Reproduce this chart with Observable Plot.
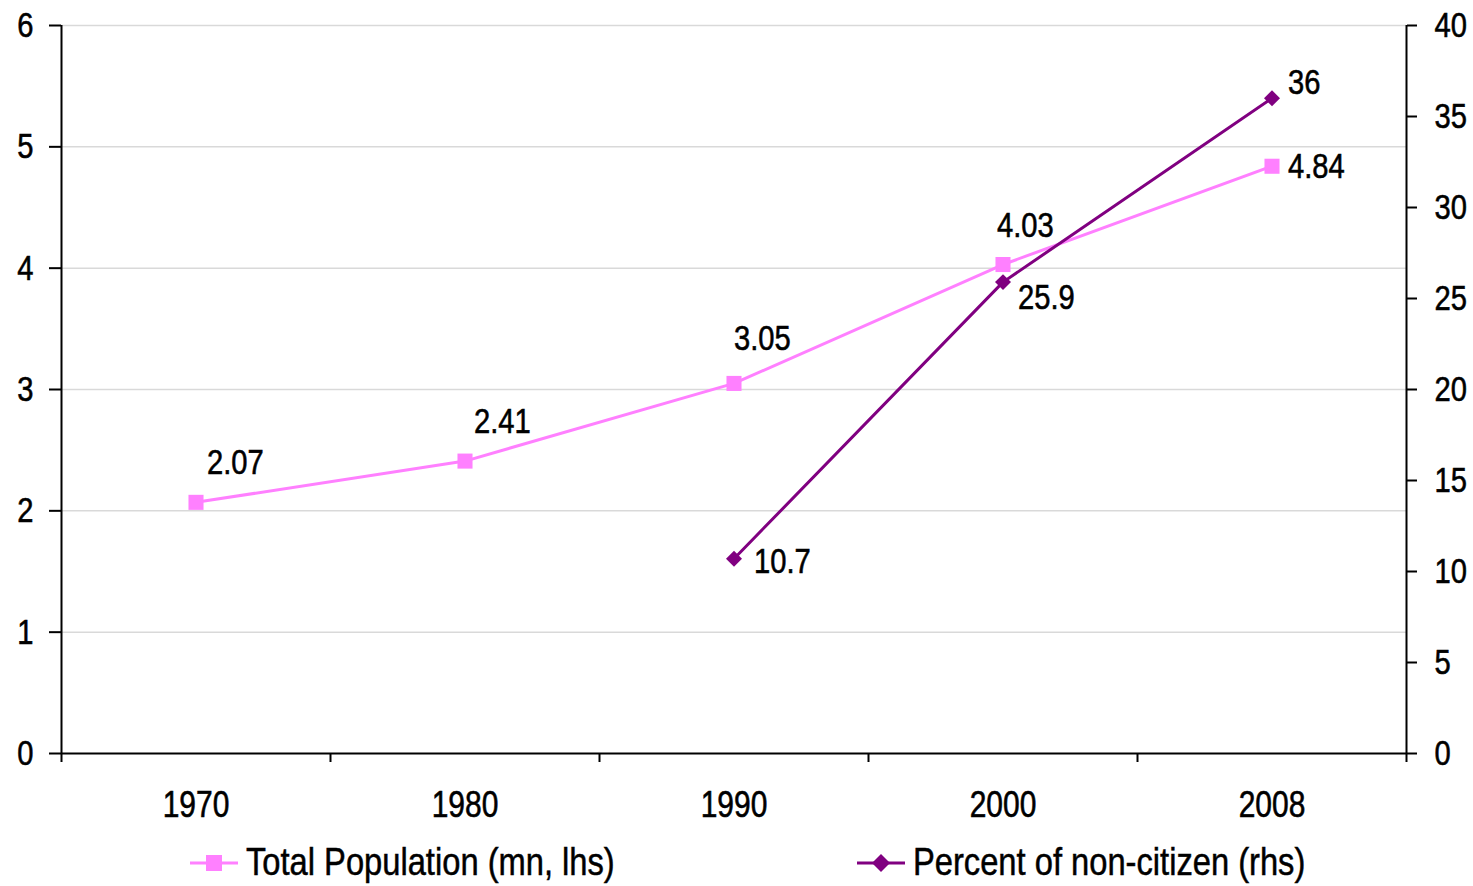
<!DOCTYPE html>
<html>
<head>
<meta charset="utf-8">
<script src="https://cdn.jsdelivr.net/npm/d3@7"></script>
<script src="https://cdn.jsdelivr.net/npm/@observablehq/plot@0.6"></script>
<style>
  body { margin: 0; background: #fff; font-family: "Liberation Sans", Arial, sans-serif; }
  #wrap { position: relative; width: 1473px; height: 886px; }
  #legend { position: absolute; left: 0; top: 836px; width: 1473px; height: 50px; font-size: 38px; color: #000; }
  .item { position: absolute; top: 5px; display: flex; align-items: center; white-space: nowrap; }
  .item svg { margin-right: 8px; flex: none; }
  .item span { display: inline-block; transform: scaleX(0.86); transform-origin: left center; -webkit-text-stroke: 0.5px #000; }
</style>
</head>
<body>
<div id="wrap">
  <div id="chart"></div>
  <div id="legend"></div>
</div>
<script>
// Categories and series
const years = ["1970", "1980", "1990", "2000", "2008"];
const population = [2.07, 2.41, 3.05, 4.03, 4.84];        // mn, left axis
const nonCitizen = [null, null, 10.7, 25.9, 36];            // percent, right axis
const leftTicks = [0, 1, 2, 3, 4, 5, 6];
const rightTicks = [0, 5, 10, 15, 20, 25, 30, 35, 40];

// Label nudges (px) for each point's value label
const popLabelOffsets = [[11, -40], [9, -40], [0, -45], [-6, -39], [16, 0]];
const pctLabelOffsets = [null, null, [20, 3], [15, 15], [16, -16]];

const PINK = "#ff80ff";
const PURPLE = "#800080";
const RMAX = 40, LMAX = 6;
const NARROW = 0.81; // horizontal squeeze giving a narrow face from Liberation Sans
const toLeft = (v) => v * LMAX / RMAX;

const popData = years.map((year, i) => ({ i, year, value: population[i] }));
const pctData = years.map((year, i) => ({ i, year, value: nonCitizen[i] })).filter(d => d.value != null);

const labelMarks = [];
popData.forEach((d, k) => {
  const [dx, dy] = popLabelOffsets[k];
  labelMarks.push(Plot.text([d], { x: d => d.i + 0.5, y: "value", text: d => String(d.value), dx, dy, textAnchor: "start", lineAnchor: "middle", fill: "#000" }));
});
pctData.forEach((d) => {
  const [dx, dy] = pctLabelOffsets[d.i];
  labelMarks.push(Plot.text([d], { x: d => d.i + 0.5, y: d => toLeft(d.value), text: d => String(d.value), dx, dy, textAnchor: "start", lineAnchor: "middle", fill: "#000" }));
});

const chart = Plot.plot({
  width: 1473,
  height: 836,
  marginLeft: 61,
  marginRight: 67,
  marginTop: 25,
  marginBottom: 83,
  style: { fontFamily: '"Liberation Sans", Arial, sans-serif', fontSize: "36px", color: "#000", background: "#fff", overflow: "visible" },
  x: { type: "linear", domain: [0, years.length] },
  y: { domain: [0, LMAX] },
  marks: [
    // horizontal gridlines
    Plot.ruleY(leftTicks.filter(t => t > 0), { stroke: "#d9d9d9", strokeWidth: 1.5 }),
    // axis lines
    Plot.ruleX([0, years.length], { y1: 0, y2: LMAX, stroke: "#000", strokeWidth: 2 }),
    Plot.ruleY([0], { stroke: "#000", strokeWidth: 2 }),
    // left axis
    Plot.axisY({ anchor: "left", ticks: leftTicks, tickSize: 12, tickPadding: 16, tickFormat: d => String(d), label: null, stroke: "#000", strokeWidth: 2 }),
    // right axis, expressed in left units
    Plot.axisY({ anchor: "right", ticks: rightTicks.map(toLeft), tickSize: 10, tickPadding: 18, tickFormat: d => String(Math.round(d * RMAX / LMAX)), label: null, stroke: "#000", strokeWidth: 2 }),
    // category boundary ticks
    Plot.axisX({ anchor: "bottom", ticks: d3.range(0, years.length + 1), tickSize: 9, tickFormat: () => "", label: null, stroke: "#000", strokeWidth: 2 }),
    // category labels
    Plot.axisX({ anchor: "bottom", ticks: years.map((_, i) => i + 0.5), tickSize: 0, tickPadding: 37, tickFormat: d => years[Math.floor(d)], label: null, fontSize: 37 }),
    // series
    Plot.line(popData, { x: d => d.i + 0.5, y: "value", stroke: PINK, strokeWidth: 3 }),
    Plot.dot(popData, { x: d => d.i + 0.5, y: "value", symbol: "square", r: 8.5, fill: PINK, stroke: "none" }),
    Plot.line(pctData, { x: d => d.i + 0.5, y: d => toLeft(d.value), stroke: PURPLE, strokeWidth: 3 }),
    Plot.dot(pctData, { x: d => d.i + 0.5, y: d => toLeft(d.value), symbol: "diamond2", r: 7.2, fill: PURPLE, stroke: "none" }),
    ...labelMarks
  ]
});

// Squeeze every label horizontally about its own anchor point, with a slightly heavier stroke
chart.querySelectorAll("text").forEach((t) => {
  const tr = t.getAttribute("transform") || "";
  t.setAttribute("transform", `${tr} scale(${NARROW},1)`);
  t.setAttribute("fill", "#000");
  t.setAttribute("stroke", "#000");
  t.setAttribute("stroke-width", "0.6");
});
document.getElementById("chart").appendChild(chart);

// Legend
const legend = document.getElementById("legend");
const items = [
  { name: "Total Population (mn, lhs)", color: PINK, shape: "square", left: 190 },
  { name: "Percent of non-citizen (rhs)", color: PURPLE, shape: "diamond", left: 857 }
];
for (const it of items) {
  const div = document.createElement("div");
  div.className = "item";
  div.style.left = it.left + "px";
  const w = 48, h = 20, c = w / 2;
  const marker = it.shape === "square"
    ? `<rect x="${c - 8}" y="${h / 2 - 8}" width="16" height="16" fill="${it.color}"/>`
    : `<path d="M${c},${h / 2 - 9}L${c + 9},${h / 2}L${c},${h / 2 + 9}L${c - 9},${h / 2}Z" fill="${it.color}"/>`;
  div.innerHTML = `<svg width="${w}" height="${h}"><line x1="0" x2="${w}" y1="${h / 2}" y2="${h / 2}" stroke="${it.color}" stroke-width="3"/>${marker}</svg><span>${it.name}</span>`;
  legend.appendChild(div);
}
</script>
</body>
</html>
